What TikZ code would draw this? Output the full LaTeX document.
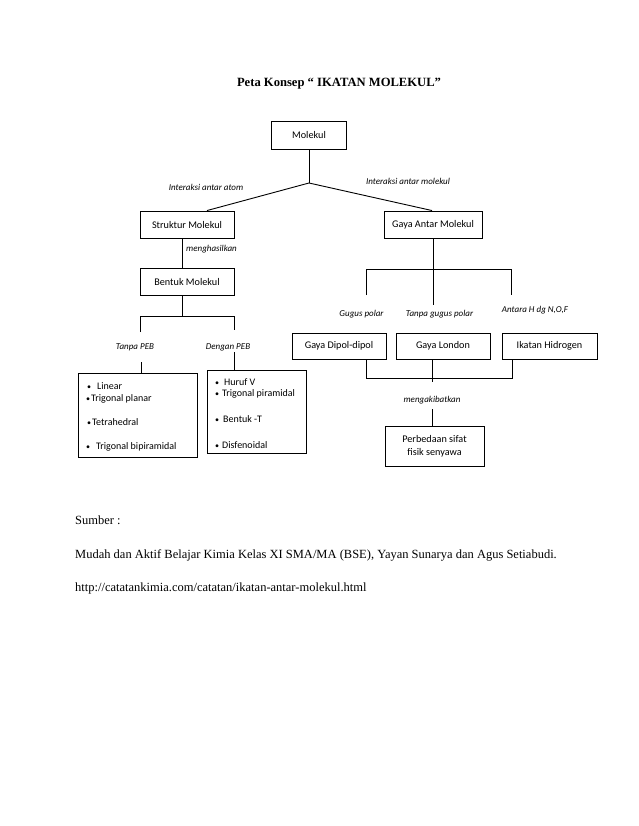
\documentclass[tikz,border=0pt]{standalone}
\usepackage{fontspec}
\setmainfont{Liberation Serif}
\newfontfamily\calfont{Carlito}
\usetikzlibrary{calc}
\newcommand\itembul[1]{\makebox[0pt]{\fontsize{8}{9}\selectfont •}\hspace{#1}}
\begin{document}
\begin{tikzpicture}[x=1pt,y=-1pt,
  box/.style={draw, line width=0.9pt, font=\calfont\fontsize{10.2}{13}\selectfont, inner sep=0pt, align=center},
  lbl/.style={font=\calfont\itshape\fontsize{9}{10}\selectfont, inner sep=0pt},
  ln/.style={line width=0.9pt},
  itm/.style={font=\calfont\fontsize{10}{11}\selectfont, anchor=west, inner sep=0pt},
  txt/.style={font=\fontsize{12.5}{14}\selectfont, anchor=base west, inner sep=0pt}]
\useasboundingbox[fill=white] (0,0) rectangle (638,826);

% title
\node[font=\bfseries\fontsize{12.6}{14}\selectfont, inner sep=0pt] (title) at (339,84) {Peta Konsep “ IKATAN MOLEKUL”};

% boxes
\node[box, minimum width=75pt, minimum height=28pt] (mol) at (309,135) {Molekul};
\node[box, minimum width=94pt, minimum height=27pt] (str) at (187,224.5) {Struktur Molekul};
\node[box, minimum width=98pt, minimum height=27pt] (gam) at (433,224.5) {Gaya Antar Molekul};
\node[box, minimum width=94pt, minimum height=27pt] (ben) at (187,281.5) {Bentuk Molekul};
\node[box, minimum width=119pt, minimum height=84pt] (lbox) at (137.5,415) {};
\node[box, minimum width=99pt, minimum height=83pt] (rbox) at (256.5,411.5) {};
\node[box, minimum width=94pt, minimum height=26pt] (dip) at (339,346) {Gaya Dipol-dipol};
\node[box, minimum width=94pt, minimum height=26pt] (lon) at (443,346) {Gaya London};
\node[box, minimum width=95pt, minimum height=26pt] (hid) at (549.5,346) {Ikatan Hidrogen};
\node[box, minimum width=99pt, minimum height=40pt] (per) at (434.5,446) {Perbedaan sifat\\fisik senyawa};

% list items
\node[itm] (l1) at (89,386) {\itembul{8pt}Linear};
\node[itm] (l2) at (88,399) {\itembul{3pt}Trigonal planar};
\node[itm] (l3) at (89,422) {\itembul{3pt}Tetrahedral};
\node[itm] (l4) at (88,447) {\itembul{8pt}Trigonal bipiramidal};
\node[itm] (r1) at (217,382) {\itembul{7pt}Huruf V};
\node[itm] (r2) at (217,394) {\itembul{5pt}Trigonal piramidal};
\node[itm] (r3) at (217,419) {\itembul{6pt}Bentuk -T};
\node[itm] (r4) at (217,445) {\itembul{5pt}Disfenoidal};

% labels
\node[lbl] (ia) at (206,187) {Interaksi antar atom};
\node[lbl] (im) at (408,181) {Interaksi antar molekul};
\node[lbl, anchor=west] (mh) at (186,249) {menghasilkan};
\node[lbl] (tp) at (135,347) {Tanpa PEB};
\node[lbl] (dp) at (228,347) {Dengan PEB};
\node[lbl] (gp) at (361.5,314) {Gugus polar};
\node[lbl] (tg) at (439.5,314) {Tanpa gugus polar};
\node[lbl] (ah) at (535,310) {Antara H dg N,O,F};
\node[lbl] (mk) at (432,400) {mengakibatkan};

% coordinates
\coordinate (j1) at (309,183);
\coordinate (b1) at (182,316);
\coordinate (bl) at (140,316);
\coordinate (br) at (234,316);
\coordinate (blb) at (140,332);
\coordinate (brb) at (234,330);
\coordinate (tl) at (141,362);
\coordinate (dl) at (234,352);
\coordinate (g1) at (433,305);
\coordinate (gl) at (366,269);
\coordinate (gr) at (511,269);
\coordinate (glb) at (366,295);
\coordinate (grb) at (511,295);
\coordinate (kl) at (366,378);
\coordinate (kr) at (512,378);
\coordinate (km) at (432,382);
\coordinate (m2) at (432,409);

% connectors
\draw[ln] (mol.south) -- (j1);
\draw[ln] ([xshift=20pt]str.north) -- (j1) -- ([xshift=-1pt]gam.north);
\draw[ln] ([xshift=-5pt]str.south) -- ([xshift=-5pt]ben.north);
\draw[ln] ([xshift=-5pt]ben.south) -- (b1);
\draw[ln] (blb) -- (bl) -- (br) -- (brb);
\draw[ln] (tl) -- (tl |- lbox.north);
\draw[ln] (dl) -- (dl |- rbox.north);
\draw[ln] (gam.south) -- (g1);
\draw[ln] (glb) -- (gl) -- (gr) -- (grb);
\draw[ln] (dip.south -| kl) -- (kl) -- (kr) -- (hid.south -| kr);
\draw[ln] (lon.south -| km) -- (km);
\draw[ln] (m2) -- (m2 |- per.north);

% source text
\node[txt] (s1) at (75,524) {Sumber :};
\node[txt] (s2) at (75,558) {Mudah dan Aktif Belajar Kimia Kelas XI SMA/MA (BSE), Yayan Sunarya dan Agus Setiabudi.};
\node[txt] (s3) at (75,591) {http://catatankimia.com/catatan/ikatan-antar-molekul.html};
\end{tikzpicture}
\end{document}
